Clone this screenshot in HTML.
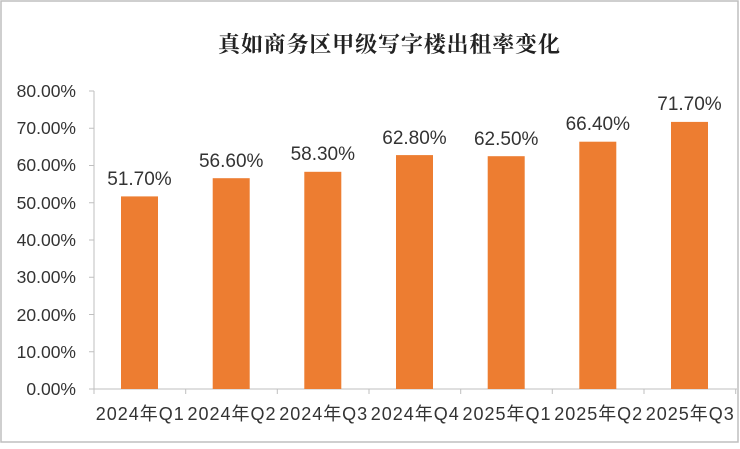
<!DOCTYPE html><html><head><meta charset="utf-8"><style>body{margin:0;background:#fff}</style></head><body>
<svg width="740" height="444" xmlns="http://www.w3.org/2000/svg" font-family="Liberation Sans, Noto Sans CJK SC, sans-serif">
<rect x="1" y="1" width="737" height="441" fill="#fff" stroke="#bfbfbf" stroke-width="1.5"/>
<text x="389" y="52" text-anchor="middle" font-size="22" font-weight="bold" font-family="Noto Serif CJK SC, serif" fill="#222" textLength="342">真如商务区甲级写字楼出租率变化</text>
<g stroke="#bfbfbf" stroke-width="1">
<line x1="94" y1="91" x2="94" y2="389"/>
<line x1="89" y1="389" x2="737" y2="389"/>
<line x1="89" y1="91" x2="94" y2="91"/><line x1="89" y1="128.25" x2="94" y2="128.25"/><line x1="89" y1="165.5" x2="94" y2="165.5"/><line x1="89" y1="202.75" x2="94" y2="202.75"/><line x1="89" y1="240" x2="94" y2="240"/><line x1="89" y1="277.25" x2="94" y2="277.25"/><line x1="89" y1="314.5" x2="94" y2="314.5"/><line x1="89" y1="351.75" x2="94" y2="351.75"/>
<line x1="94" y1="389" x2="94" y2="394"/><line x1="185.7" y1="389" x2="185.7" y2="394"/><line x1="277.3" y1="389" x2="277.3" y2="394"/><line x1="369" y1="389" x2="369" y2="394"/><line x1="460.7" y1="389" x2="460.7" y2="394"/><line x1="552.3" y1="389" x2="552.3" y2="394"/><line x1="644" y1="389" x2="644" y2="394"/><line x1="735.7" y1="389" x2="735.7" y2="394"/>
</g>
<g font-size="17.5" fill="#333" text-anchor="end">
<text x="76" y="97">80.00%</text><text x="76" y="134">70.00%</text><text x="76" y="171">60.00%</text><text x="76" y="209">50.00%</text><text x="76" y="246">40.00%</text><text x="76" y="283">30.00%</text><text x="76" y="321">20.00%</text><text x="76" y="358">10.00%</text><text x="76" y="395">0.00%</text>
</g>
<g fill="#ED7D31">
<rect x="121" y="196.4" width="37" height="192.6"/>
<rect x="212.7" y="178.2" width="37" height="210.8"/>
<rect x="304.3" y="171.8" width="37" height="217.2"/>
<rect x="396" y="155.1" width="37" height="233.9"/>
<rect x="487.7" y="156.2" width="37" height="232.8"/>
<rect x="579.3" y="141.7" width="37" height="247.3"/>
<rect x="671" y="121.9" width="37" height="267.1"/>
</g>
<g font-size="19" fill="#333" text-anchor="middle">
<text x="139.5" y="185">51.70%</text><text x="231.2" y="167">56.60%</text><text x="322.8" y="160">58.30%</text><text x="414.5" y="144">62.80%</text><text x="506.2" y="145">62.50%</text><text x="597.8" y="130">66.40%</text><text x="689.5" y="110">71.70%</text>
</g>
<g font-size="18" fill="#333" text-anchor="middle">
<text x="139.8" y="420" textLength="88">2024年Q1</text><text x="231.5" y="420" textLength="88">2024年Q2</text><text x="323.2" y="420" textLength="88">2024年Q3</text><text x="414.8" y="420" textLength="88">2024年Q4</text><text x="506.5" y="420" textLength="88">2025年Q1</text><text x="598.2" y="420" textLength="88">2025年Q2</text><text x="689.8" y="420" textLength="88">2025年Q3</text>
</g>
</svg></body></html>
